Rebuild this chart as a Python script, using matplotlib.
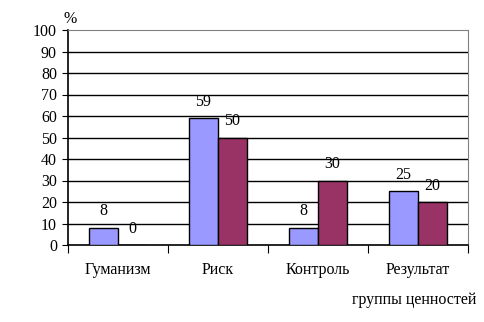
import matplotlib
matplotlib.use("Agg")
import matplotlib.pyplot as plt
import numpy as np

categories = ["Гуманизм", "Риск", "Контроль", "Результат"]
series1 = [8, 59, 8, 25]
series2 = [0, 50, 30, 20]
yticks = [0, 10, 20, 30, 40, 50, 60, 70, 80, 90, 100]

plt.rcParams['font.family'] = ['Liberation Serif', 'DejaVu Serif']
FS = 11.5

fig = plt.figure(figsize=(4.84, 3.22), dpi=100)
ax = fig.add_axes([68/484, 1-245/322, 400/484, 215/322])

x = np.arange(len(categories))
w = 0.29
b1 = ax.bar(x - w/2, series1, w, color='#9999FF', edgecolor='black', linewidth=1, zorder=3)
b2 = ax.bar(x + w/2, series2, w, color='#993366', edgecolor='black', linewidth=1, zorder=3)

for rects, vals in ((b1, series1), (b2, series2)):
    for r, v in zip(rects, vals):
        ax.annotate(str(v), (r.get_x() + r.get_width()/2, v), xytext=(0, 6),
                    textcoords='offset points', ha='center', va='bottom', fontsize=FS)

ax.set_xlim(-0.5, len(categories) - 0.5)
ax.set_ylim(0, 100)
ax.set_yticks(yticks)
ax.tick_params(axis='y', length=4, labelsize=FS, pad=4, direction='out')
for yv in yticks[1:-1]:
    ax.axhline(yv, color='black', linewidth=1, zorder=1)

ax.set_xticks(np.arange(-0.5, len(categories), 1))
ax.set_xticklabels([])
ax.set_xticks(x, minor=True)
ax.set_xticklabels(categories, minor=True, fontsize=FS)
ax.tick_params(axis='x', which='major', length=6, direction='out')
ax.tick_params(axis='x', which='minor', length=0, pad=12)

ax.spines['top'].set_color('#808080')
ax.spines['right'].set_color('#808080')
ax.spines['left'].set_linewidth(1.2)
ax.spines['bottom'].set_linewidth(1.2)

fig.text(63/484, 1-19/322, "%", fontsize=FS, ha='left', va='center')
fig.text(476/484, 1-300/322, "группы ценностей", fontsize=FS, ha='right', va='center')

fig.savefig("out.png", dpi=100)
